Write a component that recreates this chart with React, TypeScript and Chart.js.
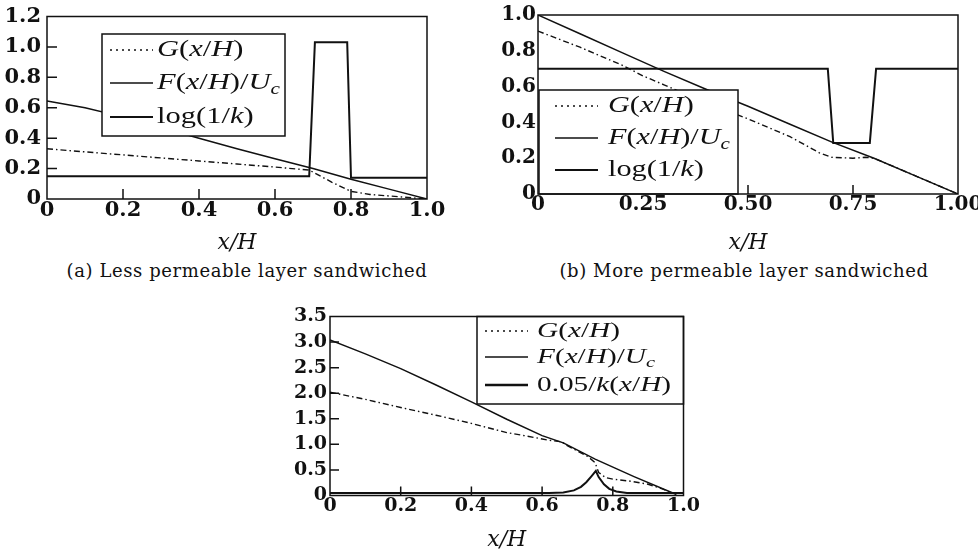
import React, { useEffect, useRef } from "react";
import { Chart, registerables } from "chart.js";

Chart.register(...registerables);

// ---------- text ----------
const CAPTION_A = "(a) Less permeable layer sandwiched";
const CAPTION_B = "(b) More permeable layer sandwiched";
const X_TITLE = "x/H";

// legend entries: [text, style] style 0 upright, 1 italic, 2 italic subscript
type Seg = [string, number];
const LEG_G: Seg[] = [["G", 1], ["(", 0], ["x", 1], ["/", 0], ["H", 1], [")", 0]];
const LEG_F: Seg[] = [["F", 1], ["(", 0], ["x", 1], ["/", 0], ["H", 1], [")", 0], ["/", 0], ["U", 1], ["c", 2]];
const LEG_LOGK: Seg[] = [["log(1/", 0], ["k", 1], [")", 0]];
const LEG_K05: Seg[] = [["0.05/", 0], ["k", 1], ["(", 0], ["x", 1], ["/", 0], ["H", 1], [")", 0]];

// ---------- panel (a) ----------
const A_X_TICKS = [0, 0.2, 0.4, 0.6, 0.8, 1.0];
const A_X_LABELS = ["0", "0.2", "0.4", "0.6", "0.8", "1.0"];
const A_Y_TICKS = [0, 0.2, 0.4, 0.6, 0.8, 1.0, 1.2];
const A_Y_LABELS = ["0", "0.2", "0.4", "0.6", "0.8", "1.0", "1.2"];
const A_G_X = [0, 0.1, 0.2, 0.3, 0.4, 0.5, 0.6, 0.69, 0.75, 0.8, 0.85, 0.9, 1.0];
const A_G_Y = [0.33, 0.31, 0.29, 0.27, 0.25, 0.23, 0.21, 0.19, 0.11, 0.05, 0.03, 0.02, 0];
const A_F_X = [0, 0.1, 0.2, 0.3, 0.4, 0.5, 0.6, 0.7, 0.8, 0.9, 1.0];
const A_F_Y = [0.645, 0.6, 0.54, 0.47, 0.4, 0.33, 0.265, 0.2, 0.13, 0.065, 0];
const A_K_X = [0, 0.69, 0.705, 0.79, 0.8, 1.0];
const A_K_Y = [0.15, 0.15, 1.03, 1.03, 0.14, 0.14];

// ---------- panel (b) ----------
const B_X_TICKS = [0, 0.25, 0.5, 0.75, 1.0];
const B_X_LABELS = ["0", "0.25", "0.50", "0.75", "1.00"];
const B_Y_TICKS = [0, 0.2, 0.4, 0.6, 0.8, 1.0];
const B_Y_LABELS = ["0", "0.2", "0.4", "0.6", "0.8", "1.0"];
const B_G_X = [0, 0.1, 0.2, 0.25, 0.3, 0.4, 0.5, 0.6, 0.67, 0.7, 0.75, 0.78, 0.8, 0.9, 1.0];
const B_G_Y = [0.91, 0.82, 0.72, 0.66, 0.61, 0.51, 0.42, 0.32, 0.23, 0.205, 0.2, 0.205, 0.2, 0.1, 0];
const B_F_X = [0, 0.1, 0.2, 0.3, 0.4, 0.5, 0.6, 0.7, 0.8, 0.9, 1.0];
const B_F_Y = [1.0, 0.895, 0.79, 0.685, 0.585, 0.49, 0.39, 0.29, 0.2, 0.1, 0];
const B_K_X = [0, 0.69, 0.703, 0.79, 0.805, 1.0];
const B_K_Y = [0.7, 0.7, 0.285, 0.285, 0.7, 0.7];

// ---------- panel (c) ----------
const C_X_TICKS = [0, 0.2, 0.4, 0.6, 0.8, 1.0];
const C_X_LABELS = ["0", "0.2", "0.4", "0.6", "0.8", "1.0"];
const C_Y_TICKS = [0, 0.5, 1.0, 1.5, 2.0, 2.5, 3.0, 3.5];
const C_Y_LABELS = ["0", "0.5", "1.0", "1.5", "2.0", "2.5", "3.0", "3.5"];
const C_G_X = [0, 0.1, 0.2, 0.3, 0.4, 0.5, 0.55, 0.62, 0.655, 0.67, 0.7, 0.73, 0.75, 0.76, 0.78, 0.8, 0.85, 0.9, 0.94, 0.97];
const C_G_Y = [2.02, 1.88, 1.72, 1.57, 1.41, 1.23, 1.17, 1.08, 1.05, 0.98, 0.87, 0.76, 0.64, 0.45, 0.35, 0.32, 0.28, 0.22, 0.13, 0.04];
const C_F_X = [0, 0.1, 0.2, 0.3, 0.4, 0.5, 0.6, 0.66, 0.75, 0.86, 0.98];
const C_F_Y = [3.04, 2.77, 2.48, 2.16, 1.83, 1.49, 1.17, 1.03, 0.71, 0.37, 0.02];
const C_K_X = [0, 0.62, 0.66, 0.69, 0.71, 0.725, 0.74, 0.752, 0.76, 0.775, 0.79, 0.81, 0.84, 1.0];
const C_K_Y = [0.05, 0.05, 0.06, 0.1, 0.17, 0.26, 0.38, 0.48, 0.36, 0.22, 0.13, 0.08, 0.05, 0.05];

const pts = (xs: number[], ys: number[]) => xs.map((x, i) => ({ x, y: ys[i] }));

const INK = "#111";
const G_DASH = [6, 3, 1.5, 3];

type LegendSpec = {
  box: [number, number, number, number];
  rows: number[];
  sample: [number, number];
  textX: number;
  size: number;
  targetW: number;
  entries: { segs: Seg[]; dash: number[]; width: number }[];
};

type PanelSpec = {
  left: number; top: number; w: number; h: number;
  padTop: number; padRight: number; yAxisW: number; xAxisH: number; titlePadBottom: number;
  yMax: number;
  xTicks: number[]; xLabels: string[]; yTicks: number[]; yLabels: string[];
  tickSize: number; xLabelPad: number; yLabelPad: number;
  xMarks: number[]; yMarks: number[]; tickLen: number;
  series: { data: { x: number; y: number }[]; dash: number[]; width: number }[];
  legend: LegendSpec;
};

const PANELS: PanelSpec[] = [
  {
    left: 0, top: 0, w: 470, h: 256,
    padTop: 13, padRight: 43, yAxisW: 47, xAxisH: 57, titlePadBottom: 0,
    yMax: 1.2,
    xTicks: A_X_TICKS, xLabels: A_X_LABELS, yTicks: A_Y_TICKS, yLabels: A_Y_LABELS,
    tickSize: 21, xLabelPad: 1, yLabelPad: 6,
    xMarks: [0.2, 0.4, 0.6, 0.8], yMarks: [0.2, 0.4, 0.6, 0.8, 1.0], tickLen: 10,
    series: [
      { data: pts(A_G_X, A_G_Y), dash: G_DASH, width: 1.4 },
      { data: pts(A_F_X, A_F_Y), dash: [], width: 1.5 },
      { data: pts(A_K_X, A_K_Y), dash: [], width: 2 },
    ],
    legend: {
      box: [102, 34, 285, 136], rows: [50, 83, 117], sample: [110, 153], textX: 157, size: 23, targetW: 123,
      entries: [
        { segs: LEG_G, dash: [2, 4], width: 1.5 },
        { segs: LEG_F, dash: [], width: 1.5 },
        { segs: LEG_LOGK, dash: [], width: 2 },
      ],
    },
  },
  {
    left: 490, top: 0, w: 500, h: 256,
    padTop: 15, padRight: 32, yAxisW: 48, xAxisH: 62, titlePadBottom: 0,
    yMax: 1.0,
    xTicks: B_X_TICKS, xLabels: B_X_LABELS, yTicks: B_Y_TICKS, yLabels: B_Y_LABELS,
    tickSize: 20, xLabelPad: 1, yLabelPad: 2,
    xMarks: [0.25, 0.5, 0.75], yMarks: [], tickLen: 9,
    series: [
      { data: pts(B_G_X, B_G_Y), dash: G_DASH, width: 1.4 },
      { data: pts(B_F_X, B_F_Y), dash: [], width: 1.5 },
      { data: pts(B_K_X, B_K_Y), dash: [], width: 2 },
    ],
    legend: {
      box: [49, 90, 248, 194], rows: [106, 138, 170], sample: [65, 108], textX: 118, size: 23, targetW: 122,
      entries: [
        { segs: LEG_G, dash: [2, 4], width: 1.5 },
        { segs: LEG_F, dash: [], width: 1.5 },
        { segs: LEG_LOGK, dash: [], width: 2 },
      ],
    },
  },
  {
    left: 270, top: 300, w: 450, h: 254,
    padTop: 16.5, padRight: 36.5, yAxisW: 60, xAxisH: 58.5, titlePadBottom: 1,
    yMax: 3.5,
    xTicks: C_X_TICKS, xLabels: C_X_LABELS, yTicks: C_Y_TICKS, yLabels: C_Y_LABELS,
    tickSize: 19, xLabelPad: 1, yLabelPad: 3,
    xMarks: [0.2, 0.4, 0.6, 0.8], yMarks: [0.5, 1.0, 1.5, 2.0, 2.5, 3.0], tickLen: 9,
    series: [
      { data: pts(C_G_X, C_G_Y), dash: G_DASH, width: 1.4 },
      { data: pts(C_F_X, C_F_Y), dash: [], width: 1.5 },
      { data: pts(C_K_X, C_K_Y), dash: [], width: 2 },
    ],
    legend: {
      box: [207, 16.5, 413.5, 104], rows: [31, 57, 85], sample: [215, 258], textX: 267, size: 21, targetW: 118,
      entries: [
        { segs: LEG_G, dash: [2, 4], width: 1.5 },
        { segs: LEG_F, dash: [], width: 1.5 },
        { segs: LEG_K05, dash: [], width: 2.5 },
      ],
    },
  },
];

const LEGEND_FAMILY = '"Liberation Serif"';

function segFont(style: number, size: number) {
  const fs = style === 2 ? size * 0.7 : size;
  return `${style >= 1 ? "italic " : ""}${fs}px ${LEGEND_FAMILY}`;
}

function richWidth(ctx: CanvasRenderingContext2D, segs: Seg[], size: number) {
  let w = 0;
  for (const [t, s] of segs) {
    ctx.font = segFont(s, size);
    w += ctx.measureText(t).width;
  }
  return w;
}

function drawRich(ctx: CanvasRenderingContext2D, segs: Seg[], x: number, y: number, size: number, sx: number) {
  ctx.save();
  ctx.translate(x, y);
  ctx.scale(sx, 1);
  ctx.textBaseline = "middle";
  ctx.textAlign = "left";
  ctx.fillStyle = INK;
  let cx = 0;
  for (const [t, s] of segs) {
    ctx.font = segFont(s, size);
    ctx.fillText(t, cx, s === 2 ? size * 0.3 : 0);
    cx += ctx.measureText(t).width;
  }
  ctx.restore();
}

function makePlugin(p: PanelSpec) {
  return {
    id: "frameLegend",
    afterDraw(chart: any) {
      const { ctx, chartArea: a, scales } = chart;
      ctx.save();
      ctx.strokeStyle = INK;
      ctx.setLineDash([]);
      // inward tick marks
      ctx.lineWidth = 1.5;
      ctx.beginPath();
      for (const v of p.xMarks) {
        const px = scales.x.getPixelForValue(v);
        ctx.moveTo(px, a.bottom);
        ctx.lineTo(px, a.bottom - p.tickLen);
      }
      for (const v of p.yMarks) {
        const py = scales.y.getPixelForValue(v);
        ctx.moveTo(a.left, py);
        ctx.lineTo(a.left + p.tickLen, py);
      }
      ctx.stroke();
      // legend
      const L = p.legend;
      const [l, t, r, b] = L.box;
      ctx.fillStyle = "#fff";
      ctx.fillRect(l, t, r - l, b - t);
      ctx.lineWidth = 1.5;
      ctx.strokeRect(l, t, r - l, b - t);
      const natural = richWidth(ctx, L.entries[1].segs, L.size);
      const sx = L.targetW / natural;
      L.entries.forEach((e, i) => {
        const y = L.rows[i];
        ctx.beginPath();
        ctx.setLineDash(e.dash);
        ctx.lineWidth = e.width;
        ctx.moveTo(L.sample[0], y);
        ctx.lineTo(L.sample[1], y);
        ctx.stroke();
        ctx.setLineDash([]);
        drawRich(ctx, e.segs, L.textX, y, L.size, sx);
      });
      // frame
      ctx.lineWidth = 1.5;
      ctx.strokeRect(a.left, a.top, a.right - a.left, a.bottom - a.top);
      ctx.restore();
    },
  };
}

function labelFor(ticks: number[], labels: string[], v: number) {
  const i = ticks.findIndex((t) => Math.abs(t - v) < 1e-9);
  return i >= 0 ? labels[i] : "";
}

function makeConfig(p: PanelSpec): any {
  const tickFont = { family: '"DejaVu Serif"', weight: "bold", size: p.tickSize, lineHeight: 1 };
  return {
    type: "line",
    data: {
      datasets: p.series.map((s) => ({
        data: s.data,
        borderColor: INK,
        borderWidth: s.width,
        borderDash: s.dash,
        pointRadius: 0,
        fill: false,
        tension: 0,
      })),
    },
    options: {
      animation: false,
      responsive: false,
      maintainAspectRatio: false,
      events: [],
      layout: { padding: { left: 0, top: p.padTop, right: p.padRight, bottom: 0 } },
      plugins: { legend: { display: false }, tooltip: { enabled: false }, title: { display: false } },
      scales: {
        x: {
          type: "linear",
          min: 0,
          max: 1,
          afterBuildTicks: (s: any) => { s.ticks = p.xTicks.map((v) => ({ value: v })); },
          afterFit: (s: any) => { s.height = p.xAxisH; },
          grid: { display: false, drawTicks: false },
          border: { display: false },
          ticks: {
            autoSkip: false, maxRotation: 0, minRotation: 0, padding: p.xLabelPad, color: INK, font: tickFont,
            callback: (v: number) => labelFor(p.xTicks, p.xLabels, v),
          },
          title: {
            display: true, text: X_TITLE, color: INK,
            font: { family: '"DejaVu Serif"', style: "italic", size: 22, lineHeight: 1.2 },
            padding: { top: 0, bottom: p.titlePadBottom },
          },
        },
        y: {
          type: "linear",
          min: 0,
          max: p.yMax,
          afterBuildTicks: (s: any) => { s.ticks = p.yTicks.map((v) => ({ value: v })); },
          afterFit: (s: any) => { s.width = p.yAxisW; },
          grid: { display: false, drawTicks: false },
          border: { display: false },
          ticks: {
            autoSkip: false, padding: p.yLabelPad, color: INK, font: tickFont,
            callback: (v: number) => labelFor(p.yTicks, p.yLabels, v),
          },
        },
      },
    },
    plugins: [makePlugin(p)],
  };
}

function Panel({ p }: { p: PanelSpec }) {
  const ref = useRef<HTMLCanvasElement>(null);
  useEffect(() => {
    const chart = new Chart(ref.current as HTMLCanvasElement, makeConfig(p));
    return () => chart.destroy();
  }, [p]);
  return (
    <div style={{ position: "absolute", left: p.left, top: p.top, width: p.w, height: p.h }}>
      <canvas ref={ref} width={p.w} height={p.h} style={{ width: p.w, height: p.h, display: "block" }} />
    </div>
  );
}

const captionStyle: React.CSSProperties = {
  position: "absolute",
  top: 271,
  transform: "translate(-50%, -50%)",
  whiteSpace: "nowrap",
  fontFamily: '"DejaVu Serif", serif',
  fontSize: 18,
  letterSpacing: 0.6,
  lineHeight: "22px",
  color: INK,
};

export default function App() {
  return (
    <div style={{ position: "fixed", left: 0, top: 0, width: 978, height: 554, overflow: "hidden", background: "#fff" }}>
      {PANELS.map((p, i) => (
        <Panel key={i} p={p} />
      ))}
      <div style={{ ...captionStyle, left: 247 }}>{CAPTION_A}</div>
      <div style={{ ...captionStyle, left: 744 }}>{CAPTION_B}</div>
    </div>
  );
}
